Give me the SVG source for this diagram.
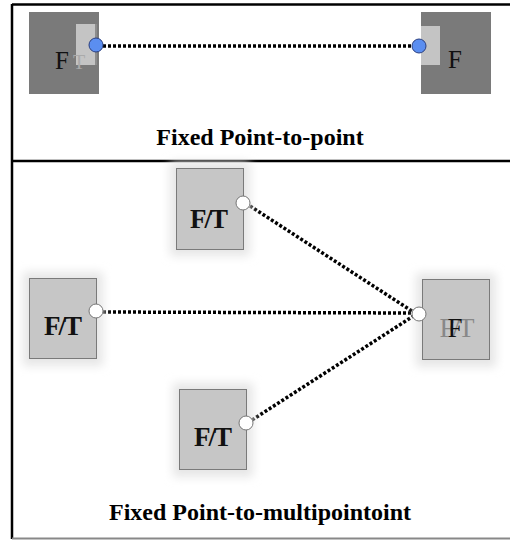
<svg xmlns="http://www.w3.org/2000/svg" width="510" height="540" viewBox="0 0 510 540">
<defs>
<filter id="blur" x="-30%" y="-30%" width="160%" height="160%"><feGaussianBlur stdDeviation="5"/></filter>
<filter id="soft" x="-10%" y="-10%" width="120%" height="120%"><feGaussianBlur stdDeviation="0.7"/></filter>
<style>
.frame{stroke:#000;stroke-width:2.5;fill:none}
.dark{fill:#7a7a7a}
.inner{fill:#c4c4c4}
.lt{fill:#c6c6c6;stroke:#7a7a7a;stroke-width:1}
.halo{fill:#e6e6e6}
.lbl{font-family:"Liberation Serif",serif;font-size:25px;fill:#111}
.lblb{font-family:"Liberation Serif",serif;font-size:27px;font-weight:bold;fill:#111}
.title{font-family:"Liberation Serif",serif;font-size:24px;font-weight:bold;fill:#000}
.conn{stroke:#000;stroke-width:3.5;stroke-dasharray:3 2;fill:none}
.pb{fill:#5b8ef0;stroke:#2a3f80;stroke-width:1}
.po{fill:#fff;stroke:#777;stroke-width:1}
</style>
</defs>
<rect width="510" height="540" fill="#fff"/>
<g id="frame">
<line x1="12" y1="4.5" x2="510" y2="4.5" class="frame"/>
<line x1="12" y1="4" x2="12" y2="539" class="frame"/>
<line x1="12" y1="161" x2="510" y2="161" class="frame"/>
<line x1="12" y1="538.5" x2="510" y2="538.5" stroke="#888" stroke-width="2"/>
</g>
<g id="connectors">
<line x1="103" y1="46" x2="412" y2="46" class="conn"/>
<line x1="250" y1="206" x2="415" y2="313" class="conn"/>
<line x1="103" y1="312" x2="413" y2="313" class="conn"/>
<line x1="252" y1="420" x2="415" y2="315" class="conn"/>
</g>
<g id="node-f-left">
<rect x="29" y="12" width="70" height="82" class="dark" filter="url(#soft)"/>
<rect x="76" y="24" width="21" height="41" class="inner"/>
<line x1="96" y1="24" x2="96" y2="65" stroke="#555" stroke-width="1"/>
<text x="55" y="69" class="lbl">F</text>
<text x="73" y="69" class="lbl" style="fill:#aaa;font-size:20px">T</text>
<circle cx="96" cy="45" r="7" class="pb"/>
</g>
<g id="node-f-right">
<rect x="421" y="12" width="70" height="82" class="dark" filter="url(#soft)"/>
<rect x="421" y="26" width="19" height="39" class="inner"/>
<text x="448" y="68" class="lbl">F</text>
<circle cx="419" cy="46" r="7" class="pb"/>
</g>
<g id="title-1">
<text x="260" y="145" text-anchor="middle" class="title">Fixed Point-to-point</text>
</g>
<g id="node-ft-top">
<rect x="170" y="162" width="80" height="94" class="halo" filter="url(#blur)"/>
<rect x="176.5" y="168.5" width="67" height="81" class="lt"/>
<text x="208" y="228" text-anchor="middle" class="lblb" letter-spacing="-2">F/T</text>
<circle cx="243" cy="203" r="7" class="po"/>
</g>
<g id="node-ft-left">
<rect x="23" y="272" width="80" height="94" class="halo" filter="url(#blur)"/>
<rect x="29.5" y="278.5" width="67" height="80" class="lt"/>
<text x="62" y="335" text-anchor="middle" class="lblb" letter-spacing="-2">F/T</text>
<circle cx="96" cy="311" r="7" class="po"/>
</g>
<g id="node-ft-right">
<rect x="416" y="273" width="80" height="94" class="halo" filter="url(#blur)"/>
<rect x="422.5" y="279.5" width="67" height="80" class="lt"/>
<text x="456" y="337" text-anchor="middle" class="lbl" style="fill:#888;font-size:27px" letter-spacing="-2">F/T</text>
<text x="455" y="337" text-anchor="middle" class="lbl" style="font-size:27px">F</text>
<circle cx="419" cy="314" r="7" class="po"/>
</g>
<g id="node-ft-bottom">
<rect x="173" y="383" width="80" height="94" class="halo" filter="url(#blur)"/>
<rect x="179.5" y="389.5" width="67" height="80" class="lt"/>
<text x="212" y="446" text-anchor="middle" class="lblb" letter-spacing="-2">F/T</text>
<circle cx="246" cy="423" r="7" class="po"/>
</g>
<g id="title-2">
<text x="260" y="520" text-anchor="middle" class="title">Fixed Point-to-multipointoint</text>
</g>
</svg>
